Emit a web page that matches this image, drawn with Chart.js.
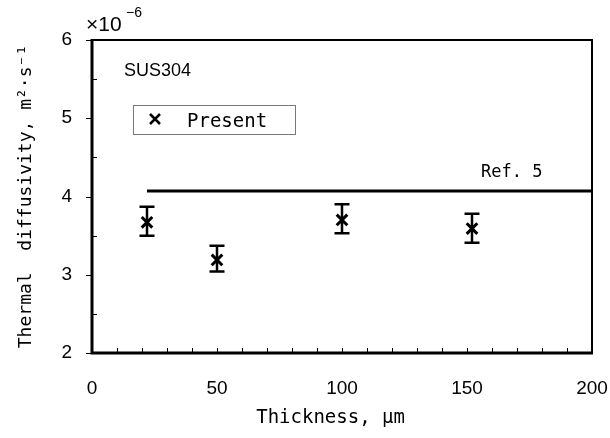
<!DOCTYPE html>
<html>
<head>
<meta charset="utf-8">
<script src="https://cdn.jsdelivr.net/npm/chart.js@4.4.0/dist/chart.umd.min.js"></script>
<style>
  body { margin: 0; background: #fff; }
  #wrap { width: 610px; height: 438px; }
</style>
</head>
<body>
<div id="wrap"><canvas id="chart" width="610" height="438"></canvas></div>
<script>
// values (diffusivity in units of 1e-6 m2/s)
var thickness = [22, 50, 100, 152];
var diffusivity = [3.67, 3.19, 3.70, 3.59];
var errLow = [3.50, 3.04, 3.53, 3.41];
var errHigh = [3.87, 3.37, 3.90, 3.78];
var refX = [22, 200];
var refY = [4.07, 4.07];
var xTicks = [0, 50, 100, 150, 200];
var yTicks = [2, 3, 4, 5, 6];

var mono = "'DejaVu Sans Mono', monospace";
var sans = "'Liberation Sans', Arial, sans-serif";

var presentPts = [];
for (var i = 0; i < thickness.length; i++) {
  presentPts.push({x: thickness[i], y: diffusivity[i], lo: errLow[i], hi: errHigh[i]});
}
var refPts = [];
for (var i = 0; i < refX.length; i++) {
  refPts.push({x: refX[i], y: refY[i]});
}

// error bars, frame, minor ticks and the loose texts
var extras = {
  id: 'extras',
  afterDatasetsDraw: function(chart) {
    var ctx = chart.ctx;
    var xs = chart.scales.x, ys = chart.scales.y;
    var a = chart.chartArea;
    ctx.save();
    ctx.strokeStyle = '#000';
    ctx.lineWidth = 2.5;
    var pts = chart.data.datasets[0].data;
    for (var i = 0; i < pts.length; i++) {
      var px = xs.getPixelForValue(pts[i].x);
      var top = ys.getPixelForValue(pts[i].hi);
      var bot = ys.getPixelForValue(pts[i].lo);
      ctx.beginPath();
      ctx.moveTo(px, top); ctx.lineTo(px, bot);
      ctx.moveTo(px - 7.5, top); ctx.lineTo(px + 7.5, top);
      ctx.moveTo(px - 7.5, bot); ctx.lineTo(px + 7.5, bot);
      ctx.stroke();
    }
    // frame
    ctx.lineWidth = 2;
    ctx.beginPath();
    ctx.moveTo(a.left, a.top); ctx.lineTo(a.right, a.top); ctx.lineTo(a.right, a.bottom);
    ctx.stroke();
    ctx.lineWidth = 3;
    ctx.beginPath();
    ctx.moveTo(a.left, a.top - 1); ctx.lineTo(a.left, a.bottom); ctx.lineTo(a.right + 1, a.bottom);
    ctx.stroke();
    // inward minor ticks
    ctx.lineWidth = 1;
    for (var v = 10; v < 200; v += 10) {
      var tx = Math.round(xs.getPixelForValue(v)) + 0.5;
      ctx.beginPath();
      ctx.moveTo(tx, a.bottom); ctx.lineTo(tx, a.bottom - 5);
      ctx.stroke();
    }
    for (var v = 2.5; v < 6; v += 1) {
      var ty = Math.round(ys.getPixelForValue(v)) + 0.5;
      ctx.beginPath();
      ctx.moveTo(a.left, ty); ctx.lineTo(a.left + 5, ty);
      ctx.stroke();
    }
    for (var k = 0; k < yTicks.length; k++) {
      var ty = Math.round(ys.getPixelForValue(yTicks[k])) + 0.5;
      ctx.beginPath();
      ctx.moveTo(a.left - 6, ty); ctx.lineTo(a.left, ty);
      ctx.stroke();
    }
    // texts
    ctx.fillStyle = '#000';
    ctx.textBaseline = 'alphabetic';
    ctx.textAlign = 'left';
    ctx.font = '21px ' + sans;
    ctx.fillText('\u00d710', 86, 31);
    ctx.font = '14px ' + sans;
    ctx.fillText('\u22126', 126, 17);
    ctx.font = '18px ' + sans;
    ctx.fillText('SUS304', 124, 76);
    ctx.font = '17px ' + mono;
    ctx.fillText('Ref. 5', 481, 177);
    // legend box
    ctx.strokeStyle = '#777';
    ctx.lineWidth = 1;
    ctx.strokeRect(133.5, 105.5, 162, 29);
    ctx.strokeStyle = '#000';
    ctx.lineWidth = 2.5;
    ctx.beginPath();
    ctx.moveTo(150, 114); ctx.lineTo(160, 124);
    ctx.moveTo(160, 114); ctx.lineTo(150, 124);
    ctx.stroke();
    ctx.font = '19px ' + mono;
    ctx.fillText(chart.data.datasets[0].label, 187, 127);
    ctx.restore();
  }
};

var ctx = document.getElementById('chart').getContext('2d');
var chart = new Chart(ctx, {
  type: 'scatter',
  data: {
    datasets: [{
      label: 'Present',
      data: presentPts,
      pointStyle: 'crossRot',
      pointRadius: 7.5,
      pointBorderWidth: 3,
      borderColor: '#000',
      backgroundColor: '#000'
    }, {
      label: 'Ref. 5',
      type: 'line',
      data: refPts,
      borderColor: '#000',
      borderWidth: 3,
      pointRadius: 0,
      fill: false
    }]
  },
  options: {
    responsive: false,
    animation: false,
    layout: { padding: { top: 40, right: 18, left: 0, bottom: 0 } },
    plugins: { legend: { display: false }, tooltip: { enabled: false } },
    scales: {
      x: {
        type: 'linear',
        min: 0, max: 200,
        afterBuildTicks: function(s) { s.ticks = xTicks.map(function(v) { return {value: v}; }); },
        afterFit: function(s) { s.height = 85; s.paddingLeft = 0; s.paddingRight = 0; },
        grid: { display: false, drawTicks: false },
        border: { display: false },
        ticks: { color: '#000', padding: 24, font: { family: sans, size: 19 } },
        title: {
          display: true,
          text: 'Thickness, \u03bcm\u00a0\u00a0',
          color: '#000',
          font: { family: mono, size: 19 },
          padding: { top: 0, bottom: 9 }
        }
      },
      y: {
        min: 2, max: 6,
        afterBuildTicks: function(s) { s.ticks = yTicks.map(function(v) { return {value: v}; }); },
        afterFit: function(s) { s.width = 92; s.paddingTop = 0; s.paddingBottom = 0; },
        grid: { display: false, drawTicks: false },
        border: { display: false },
        ticks: { color: '#000', padding: 20, font: { family: sans, size: 19 } },
        title: {
          display: true,
          text: 'Thermal  diffusivity, m\u00b2\u00b7s\u207b\u00b9',
          color: '#000',
          font: { family: mono, size: 18 },
          padding: { top: 16, bottom: 0 }
        }
      }
    }
  },
  plugins: [extras]
});
</script>
</body>
</html>
